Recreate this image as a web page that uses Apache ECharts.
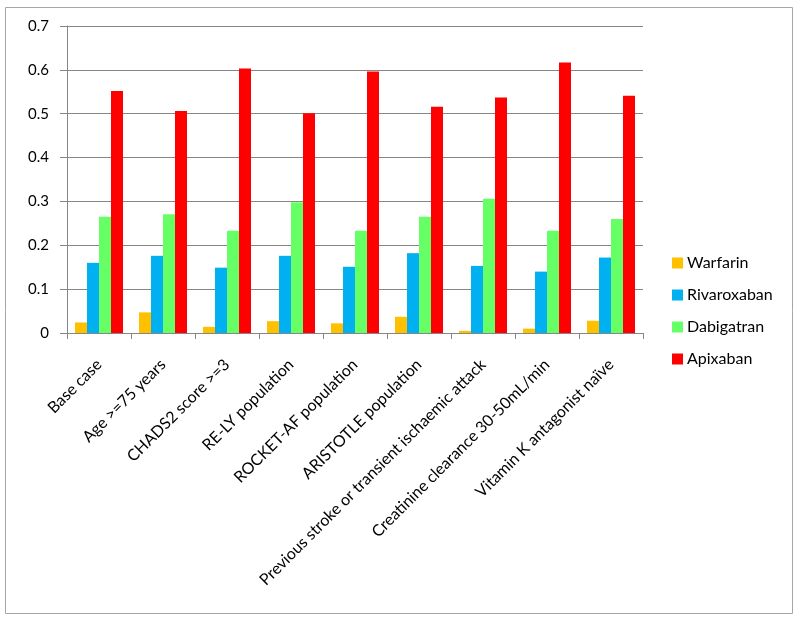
<!DOCTYPE html>
<html>
<head>
<meta charset="utf-8">
<script src="https://cdn.jsdelivr.net/npm/echarts@6/dist/echarts.min.js"></script>
<style>
  html, body { margin: 0; padding: 0; background: #fff; }
  #chart { width: 800px; height: 622px; }
</style>
</head>
<body>
<div id="chart"></div>
<script>
// scenario names along the x axis
const scenarios = [
  'Base case',
  'Age >=75 years',
  'CHADS2 score >=3',
  'RE-LY population',
  'ROCKET-AF population',
  'ARISTOTLE population',
  'Previous stroke or transient ischaemic attack',
  'Creatinine clearance 30-50mL/min',
  'Vitamin K antagonist naïve'
];

const warfarin    = [0.024, 0.047, 0.014, 0.027, 0.022, 0.037, 0.005, 0.010, 0.028];
const rivaroxaban = [0.160, 0.176, 0.149, 0.176, 0.151, 0.182, 0.153, 0.140, 0.172];
const dabigatran  = [0.265, 0.271, 0.233, 0.298, 0.233, 0.265, 0.306, 0.233, 0.260];
const apixaban    = [0.552, 0.506, 0.603, 0.501, 0.596, 0.516, 0.537, 0.617, 0.541];

const seriesNames = ['Warfarin', 'Rivaroxaban', 'Dabigatran', 'Apixaban'];
const seriesData = [warfarin, rivaroxaban, dabigatran, apixaban];
const colors = ['#FFC000', '#00B0F0', '#66FF66', '#FF0000'];

const font = 'Lato, "Open Sans", sans-serif';

var myChart = echarts.init(document.getElementById('chart'));

var option = {
  animation: false,
  textStyle: { fontFamily: font },
  graphic: [{
    type: 'rect',
    shape: { x: 5.5, y: 7.5, width: 787, height: 606 },
    style: { fill: 'none', stroke: '#a6a6a6', lineWidth: 1 },
    silent: true
  }],
  legend: {
    orient: 'vertical',
    left: 667,
    top: 250,
    itemWidth: 11,
    itemHeight: 11,
    itemGap: 16,
    icon: 'rect',
    textStyle: { fontFamily: font, fontSize: 16, color: '#000', padding: [0, 0, 0, -1] },
    data: seriesNames
  },
  grid: {
    left: 67,
    right: 157,
    top: 26,
    bottom: 289
  },
  xAxis: {
    type: 'category',
    data: scenarios,
    axisLine: { lineStyle: { color: '#868686', width: 1 } },
    axisTick: { show: true, length: 6, lineStyle: { color: '#868686' } },
    axisLabel: {
      rotate: 45,
      interval: 0,
      margin: 29,
      fontFamily: font,
      fontSize: 16,
      color: '#000'
    }
  },
  yAxis: {
    type: 'value',
    min: 0,
    max: 0.7,
    interval: 0.1,
    axisLine: { show: true, lineStyle: { color: '#868686' } },
    axisTick: { show: true, length: 7, lineStyle: { color: '#868686' } },
    splitLine: { lineStyle: { color: '#868686', width: 1 } },
    axisLabel: {
      margin: 18,
      fontFamily: font,
      fontSize: 15,
      color: '#000',
      formatter: function (v) { return v === 0 ? '0' : v.toFixed(1); }
    }
  },
  series: seriesNames.map(function (name, i) {
    return {
      name: name,
      type: 'bar',
      data: seriesData[i],
      barGap: '0%',
      barCategoryGap: '25%',
      itemStyle: { color: colors[i] }
    };
  })
};

myChart.setOption(option);
</script>
</body>
</html>
